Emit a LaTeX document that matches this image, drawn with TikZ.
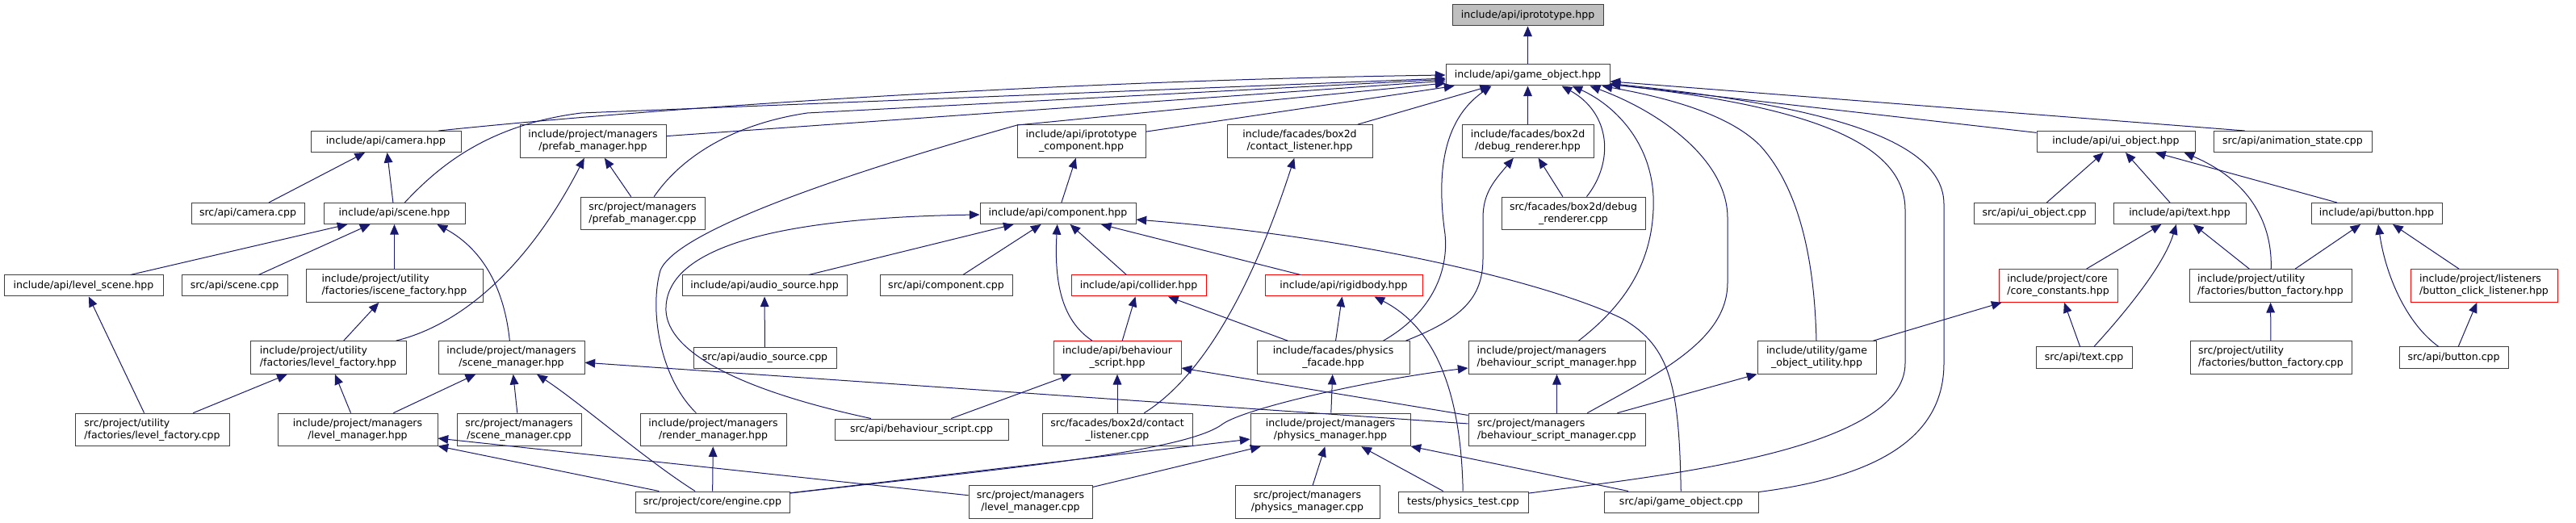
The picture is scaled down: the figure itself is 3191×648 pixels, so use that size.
\documentclass[tikz,border=0pt]{standalone}
\usepackage{fontspec}
\usepackage{tikz}
\usetikzlibrary{arrows.meta,calc}
\newfontfamily\dvsans{DejaVu Sans}
\definecolor{edgeblue}{HTML}{191970}
\definecolor{boxline}{HTML}{404040}
\definecolor{rootbg}{HTML}{BFBFBF}
\definecolor{truncred}{HTML}{FF0000}

\begin{document}
\begin{tikzpicture}[x=0.75pt, y=-0.75pt,
  file/.style={draw=boxline, fill=white, line width=0.75pt, inner sep=0pt,
    minimum height=19.5pt, minimum width=#1*0.75pt, align=center,
    font=\dvsans\fontsize{9.4}{11.25}\selectfont},
  file2/.style={file=#1, minimum height=30.5pt},
  root/.style={fill=rootbg},
  trunc/.style={draw=truncred},
  dep/.style={draw=edgeblue, line width=0.75pt, -{Triangle[length=9.5pt, width=8pt]}}]
  \useasboundingbox (0,0) rectangle (3191,648);

  % row 1: the header itself
  \node[file=187, root] (iproto) at (1892.5,19) {include/api/iprototype.hpp};
  % row 2
  \node[file=203] (gameObjH) at (1892.5,93) {include/api/game\_object.hpp};

  % row 3
  \node[file=186] (cameraH) at (478,175.5) {include/api/camera.hpp};
  \node[file2=181] (prefabMgrH) at (734.5,175) {include/project/managers\\/prefab\_manager.hpp};
  \node[file2=159] (iprotoCompH) at (1339.5,175) {include/api/iprototype\\\_component.hpp};
  \node[file2=180] (contactLstH) at (1610,175) {include/facades/box2d\\/contact\_listener.hpp};
  \node[file2=163] (debugRendH) at (1892.5,175) {include/facades/box2d\\/debug\_renderer.hpp};
  \node[file=196] (uiObjectH) at (2621,175.5) {include/api/ui\_object.hpp};
  \node[file=196] (animStateC) at (2840,175.5) {src/api/animation\_state.cpp};

  % row 4
  \node[file=140] (cameraC) at (307,264.5) {src/api/camera.cpp};
  \node[file=175] (sceneH) at (488.5,264.5) {include/api/scene.hpp};
  \node[file2=154, align=left] (prefabMgrC) at (796,264.5) {src/project/managers\\/prefab\_manager.cpp};
  \node[file=193] (componentH) at (1310.5,264.5) {include/api/component.hpp};
  \node[file2=178] (debugRendC) at (1949,264.5) {src/facades/box2d/debug\\\_renderer.cpp};
  \node[file=150] (uiObjectC) at (2520,264.5) {src/api/ui\_object.cpp};
  \node[file=164] (textH) at (2700,264.5) {include/api/text.hpp};
  \node[file=162] (buttonH) at (2944,264.5) {include/api/button.hpp};

  % row 5
  \node[file=197] (levelSceneH) at (103.5,354) {include/api/level\_scene.hpp};
  \node[file=131] (sceneC) at (290.5,354) {src/api/scene.cpp};
  \node[file2=219, align=left] (isceneFacH) at (488.5,354) {include/project/utility\\/factories/iscene\_factory.hpp};
  \node[file=204] (audioSrcH) at (947,354) {include/api/audio\_source.hpp};
  \node[file=164] (componentC) at (1172,354) {src/api/component.cpp};
  \node[file=167, trunc] (colliderH) at (1410.5,354) {include/api/collider.hpp};
  \node[file=195, trunc] (rigidbodyH) at (1664.5,354) {include/api/rigidbody.hpp};
  \node[file2=147, trunc, align=left] (coreConstH) at (2549.5,354) {include/project/core\\/core\_constants.hpp};
  \node[file2=201, align=left] (buttonFacH) at (2812.5,354) {include/project/utility\\/factories/button\_factory.hpp};
  \node[file2=182, trunc, align=left] (clickLstH) at (3077,354) {include/project/listeners\\/button\_click\_listener.hpp};

  % row 6
  \node[file2=193, align=left] (levelFacH) at (406.5,443) {include/project/utility\\/factories/level\_factory.hpp};
  \node[file2=181] (sceneMgrH) at (633.5,443) {include/project/managers\\/scene\_manager.hpp};
  \node[file=177] (audioSrcC) at (947.5,443.5) {src/api/audio\_source.cpp};
  \node[file2=158, trunc] (behavScriptH) at (1384,443) {include/api/behaviour\\\_script.hpp};
  \node[file2=189] (physFacadeH) at (1651.5,443) {include/facades/physics\\\_facade.hpp};
  \node[file2=219, align=left] (behavMgrH) at (1928.5,443) {include/project/managers\\/behaviour\_script\_manager.hpp};
  \node[file2=147] (goUtilityH) at (2250.5,443) {include/utility/game\\\_object\_utility.hpp};
  \node[file=119] (textC) at (2581.5,443) {src/api/text.cpp};
  \node[file2=200, align=left] (buttonFacC) at (2813,443) {src/project/utility\\/factories/button\_factory.cpp};
  \node[file=135] (buttonC) at (3039.5,443) {src/api/button.cpp};

  % row 7
  \node[file2=191, align=left] (levelFacC) at (188.5,532.5) {src/project/utility\\/factories/level\_factory.cpp};
  \node[file2=198] (levelMgrH) at (443,532.5) {include/project/managers\\/level\_manager.hpp};
  \node[file2=154] (sceneMgrC) at (643,532.5) {src/project/managers\\/scene\_manager.cpp};
  \node[file2=181] (renderMgrH) at (883.5,532.5) {include/project/managers\\/render\_manager.hpp};
  \node[file=215] (behavScriptC) at (1141.5,532) {src/api/behaviour\_script.cpp};
  \node[file2=186] (contactLstC) at (1384,532.5) {src/facades/box2d/contact\\\_listener.cpp};
  \node[file2=198] (physMgrH) at (1648,532.5) {include/project/managers\\/physics\_manager.hpp};
  \node[file2=219, align=left] (behavMgrC) at (1928.5,532.5) {src/project/managers\\/behaviour\_script\_manager.cpp};

  % row 8
  \node[file=191] (engineC) at (882.5,622) {src/project/core/engine.cpp};
  \node[file2=153] (levelMgrC) at (1276.5,622) {src/project/managers\\/level\_manager.cpp};
  \node[file2=179] (physMgrC) at (1619.5,622) {src/project/managers\\/physics\_manager.cpp};
  \node[file=161] (physTestC) at (1812.5,622) {tests/physics\_test.cpp};
  \node[file=191] (gameObjC) at (2082.5,622) {src/api/game\_object.cpp};

  % straight includes (includer/included)
  \foreach \a/\b in {gameObjH/iproto, prefabMgrH/gameObjH, iprotoCompH/gameObjH,
      contactLstH/gameObjH, debugRendH/gameObjH, uiObjectH/gameObjH,
      cameraC/cameraH, sceneH/cameraH, prefabMgrC/prefabMgrH, componentH/iprotoCompH,
      debugRendC/debugRendH, uiObjectC/uiObjectH, textH/uiObjectH, buttonH/uiObjectH,
      levelSceneH/sceneH, sceneC/sceneH, isceneFacH/sceneH, audioSrcH/componentH,
      componentC/componentH, colliderH/componentH, rigidbodyH/componentH,
      coreConstH/textH, buttonFacH/textH, buttonFacH/buttonH, clickLstH/buttonH,
      levelFacH/isceneFacH, audioSrcC/audioSrcH, behavScriptH/colliderH, physFacadeH/colliderH,
      physFacadeH/rigidbodyH, goUtilityH/coreConstH, textC/coreConstH, buttonFacC/buttonFacH,
      buttonC/clickLstH, levelFacC/levelSceneH, levelFacC/levelFacH, levelMgrH/levelFacH,
      levelMgrH/sceneMgrH, sceneMgrC/sceneMgrH, behavScriptC/behavScriptH,
      contactLstC/behavScriptH, physMgrH/physFacadeH, behavMgrC/behavMgrH,
      behavMgrC/behavScriptH, behavMgrC/sceneMgrH, behavMgrC/goUtilityH,
      engineC/levelMgrH, engineC/renderMgrH, engineC/physMgrH, levelMgrC/levelMgrH,
      levelMgrC/physMgrH, physMgrC/physMgrH, physTestC/physMgrH, gameObjC/physMgrH}
    \draw[dep] (\a) -- (\b);

  % curved includes into game_object.hpp
  \draw[dep] ($(cameraH.north east)+(-28,0)$) .. controls (800,135) and (1300,100) .. (gameObjH.west);
  \draw[dep] ($(animStateC.north west)+(39,0)$) -- (gameObjH);
  \draw[dep] (sceneH) .. controls (540,210) and (600,155) .. (720,140) -- (gameObjH);
  \draw[dep] (prefabMgrC) .. controls (840,200) and (900,155) .. (1000,140) -- (gameObjH);
  \draw[dep] (renderMgrH) .. controls (815,465) and (805,380) .. (818,335)
    .. controls (840,280) and (1100,200) .. (1260,155) -- (gameObjH);
  \draw[dep] ($(physFacadeH.north)+(62,0)$) .. controls (1770,390) and (1795,340) .. (1790,290)
    .. controls (1780,220) and (1785,150) .. ($(gameObjH.south)+(-45,0)$);
  \draw[dep] (debugRendC) .. controls (2000,200) and (1995,140) .. ($(gameObjH.south)+(42,0)$);
  \draw[dep] (behavMgrH) .. controls (2010,380) and (2045,330) .. (2048,260)
    .. controls (2052,180) and (2000,130) .. ($(gameObjH.south)+(55,0)$);
  \draw[dep] (behavMgrC) .. controls (2060,460) and (2140,420) .. (2140,350) -- (2140,270)
    .. controls (2140,200) and (2060,140) .. ($(gameObjH.south east)+(-25,0)$);
  \draw[dep] (goUtilityH) .. controls (2248,340) and (2235,240) .. (2180,180)
    .. controls (2140,140) and (2060,120) .. ($(gameObjH.south east)+(-10,0)$);
  \draw[dep] (physTestC) .. controls (2050,590) and (2360,560) .. (2360,450) -- (2360,260)
    .. controls (2360,170) and (2220,130) .. (gameObjH);
  \draw[dep] (gameObjC) .. controls (2330,590) and (2408,540) .. (2408,450) -- (2408,253)
    .. controls (2408,170) and (2250,130) .. (gameObjH);

  % other curved includes
  \draw[dep] ($(physFacadeH.north)+(90,0)$) .. controls (1810,395) and (1837,370) .. (1837,320)
    -- (1837,270) .. controls (1837,240) and (1850,225) .. (debugRendH);
  \draw[dep] (levelFacH) .. controls (580,400) and (660,320) .. (prefabMgrH);
  \draw[dep] (contactLstC) .. controls (1500,460) and (1560,330) .. (contactLstH);
  \draw[dep] (behavScriptH) .. controls (1320,400) and (1305,360) .. (componentH);
  \draw[dep] (gameObjC) .. controls (2080,480) and (2070,430) .. (2010,395)
    .. controls (1930,355) and (1700,295) .. (componentH);
  \draw[dep] (behavScriptC) .. controls (900,480) and (822,430) .. (825,380)
    .. controls (828,310) and (950,270) .. (componentH);
  \draw[dep] (engineC) .. controls (1250,580) and (1470,560) .. (1515,525)
    .. controls (1545,505) and (1700,470) .. (behavMgrH);
  \draw[dep] (engineC) .. controls (800,570) and (720,500) .. (sceneMgrH);
  \draw[dep] (physTestC) .. controls (1810,500) and (1785,410) .. ($(rigidbodyH.south)+(38,0)$);
  \draw[dep] (sceneMgrH) .. controls (625,360) and (600,310) .. ($(sceneH.south east)+(-35,0)$);
  \draw[dep] (buttonFacH) .. controls (2815,280) and (2790,225) .. ($(uiObjectH.south east)+(-14,0)$);
  \draw[dep] (textC) .. controls (2630,390) and (2680,330) .. (textH);
  \draw[dep] (buttonC) .. controls (2980,400) and (2955,340) .. (buttonH);
\end{tikzpicture}
\end{document}
